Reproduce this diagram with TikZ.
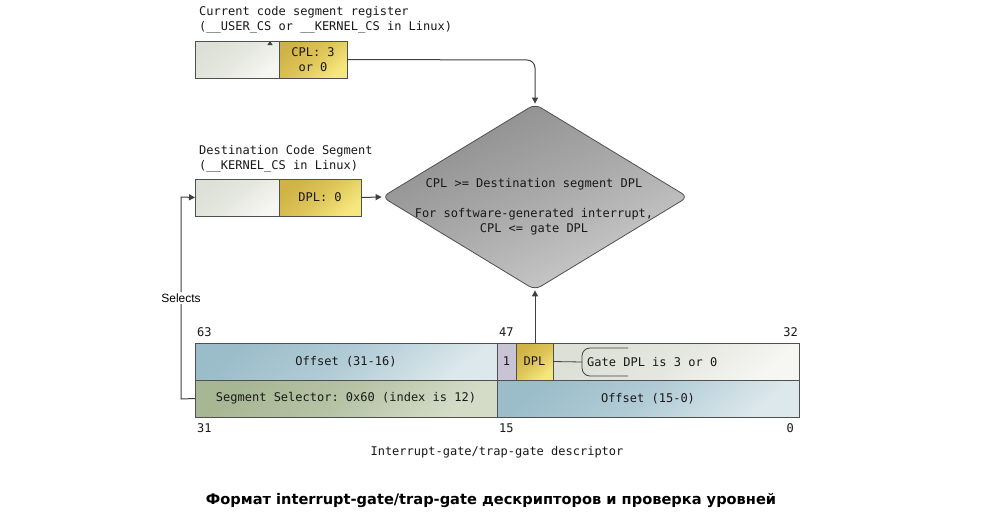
\documentclass[tikz,border=0pt]{standalone}
\usepackage{fontspec}
\setmainfont{DejaVu Sans}
\setmonofont{DejaVu Sans Mono}
\newfontfamily\arialfont{Liberation Sans}
\usetikzlibrary{arrows.meta,shapes.geometric}
\definecolor{linegray}{HTML}{505050}
\definecolor{arrowgray}{HTML}{404040}
\definecolor{bluedark}{HTML}{9BBDCA}
\definecolor{bluelight}{HTML}{DCE8EC}
\definecolor{greendark}{HTML}{A7B794}
\definecolor{greenlight}{HTML}{D4DCC8}
\definecolor{yeldark}{HTML}{D0B245}
\definecolor{yellight}{HTML}{F6E87E}
\definecolor{graydark}{HTML}{DCE0D6}
\definecolor{graylight}{HTML}{F6F6F2}
\definecolor{lavender}{HTML}{C8C4D6}
\definecolor{diadark}{HTML}{8C8C8C}
\definecolor{dialight}{HTML}{CDCDCD}
\tikzset{
  x=1pt, y=-1pt,
  cell/.style={draw=linegray, line width=1pt, inner sep=0pt, outer sep=0pt,
    minimum height=37pt, anchor=north west, text=black!90, font=\ttfamily\fontsize{12}{15}\selectfont},
  grad/.style 2 args={shading=axis, top color=#1, bottom color=#2, middle color={#1!65!#2}, shading angle=40},
  bluecell/.style={cell, grad={bluedark}{bluelight}},
  greencell/.style={cell, grad={greendark}{greenlight}},
  yelcell/.style={cell, grad={yeldark}{yellight}},
  graycell/.style={cell, grad={graydark}{graylight}},
  lavcell/.style={cell, fill=lavender},
  mono/.style={font=\ttfamily\fontsize{12}{15}\selectfont, inner sep=0pt, text=black!90},
  conn/.style={draw=arrowgray, line width=1pt, -{Triangle[length=6pt,width=6pt]}},
  plain/.style={draw=arrowgray, line width=1pt},
}
\begin{document}
\begin{tikzpicture}
\useasboundingbox (0,0) rectangle (1000,525);
\fill[white] (0,0) rectangle (1000,525);

% current code segment register
\node[mono, anchor=west, align=left] (cstitle) at (199,19.5) {Current code segment register\\(\_\_USER\_CS or \_\_KERNEL\_CS in Linux)};
\node[graycell, minimum width=84pt] (cs1) at (195,41) {};
\node[yelcell, minimum width=68pt, align=center] (cs2) at (279,41) {CPL: 3\\or 0};

% destination code segment
\node[mono, anchor=west, align=left] (dstitle) at (199,159) {Destination Code Segment\\(\_\_KERNEL\_CS in Linux)};
\node[graycell, minimum width=84pt] (ds1) at (195,179) {};
\node[yelcell, minimum width=82pt] (ds2) at (279,179) {DPL: 0};

% diamond
\node[diamond, draw=linegray, line width=0.8pt, rounded corners=7pt, inner sep=0pt,
      minimum width=306pt, minimum height=186pt,
      shading=axis, top color=diadark, bottom color=dialight, middle color=diadark!55!dialight, shading angle=25] (dia) at (535,197) {};
\node[mono, align=center] (diatext) at (534,207) {CPL >= Destination segment DPL\\[15pt]For software-generated interrupt,\\CPL <= gate DPL};

% descriptor
\node[bluecell, minimum width=302pt] (off1) at (195,343) {Offset (31-16)};
\node[lavcell, minimum width=19pt] (one) at (497,343) {1};
\node[yelcell, minimum width=37pt] (dpl) at (516,343) {DPL};
\node[graycell, minimum width=246pt] (rest) at (553,343) {};
\node[greencell, minimum width=302pt] (sel) at (195,380) {Segment Selector: 0x60 (index is 12)};
\node[bluecell, minimum width=302pt] (off0) at (497,380) {Offset (15-0)};

% bit numbers
\node[mono, anchor=west] (b63) at (197,332) {63};
\node[mono, anchor=west] (b47) at (499,332) {47};
\node[mono, anchor=east] (b32) at (798,332) {32};
\node[mono, anchor=west] (b31) at (197,428) {31};
\node[mono, anchor=west] (b15) at (499,428) {15};
\node[mono, anchor=east] (b0) at (794,428) {0};
\node[mono] (desc) at (497,452) {Interrupt-gate/trap-gate descriptor};

% annotation
\coordinate (brk) at (582,362);
\draw[plain, line width=0.8pt] (dpl.east) -- (brk);
\draw[plain, line width=0.8pt, rounded corners=8pt] (628,348) -- (582,348) -- (582,376) -- (628,376);
\node[mono, anchor=west] (gate) at (587,362) {Gate DPL is 3 or 0};

% connectors
\coordinate (topcorner) at (535,60);
\draw[conn, rounded corners=8pt] (cs2.east) -- (topcorner) -- (dia.north);
\draw[conn] (ds2.east) -- (dia.west);
\draw[conn] (dpl.north -| dia.south) -- (dia.south);
\coordinate (selcorner1) at (181,399);
\coordinate (selcorner2) at (181,197);
\draw[conn] (sel.west) -- (selcorner1) -- (selcorner2) -- (ds1.west);
\node[fill=white, inner sep=1.5pt, font=\arialfont\fontsize{12}{14}\selectfont] (selects) at (181,298) {Selects};
\coordinate (tick) at (270,44);
\draw[conn, -{Triangle[length=4pt,width=5pt]}] (tick) -- (cs1.north -| tick);

% caption
\node[font=\bfseries\fontsize{14.6}{17}\selectfont] (caption) at (491,500) {Формат interrupt-gate/trap-gate дескрипторов и проверка уровней};
\end{tikzpicture}
\end{document}
